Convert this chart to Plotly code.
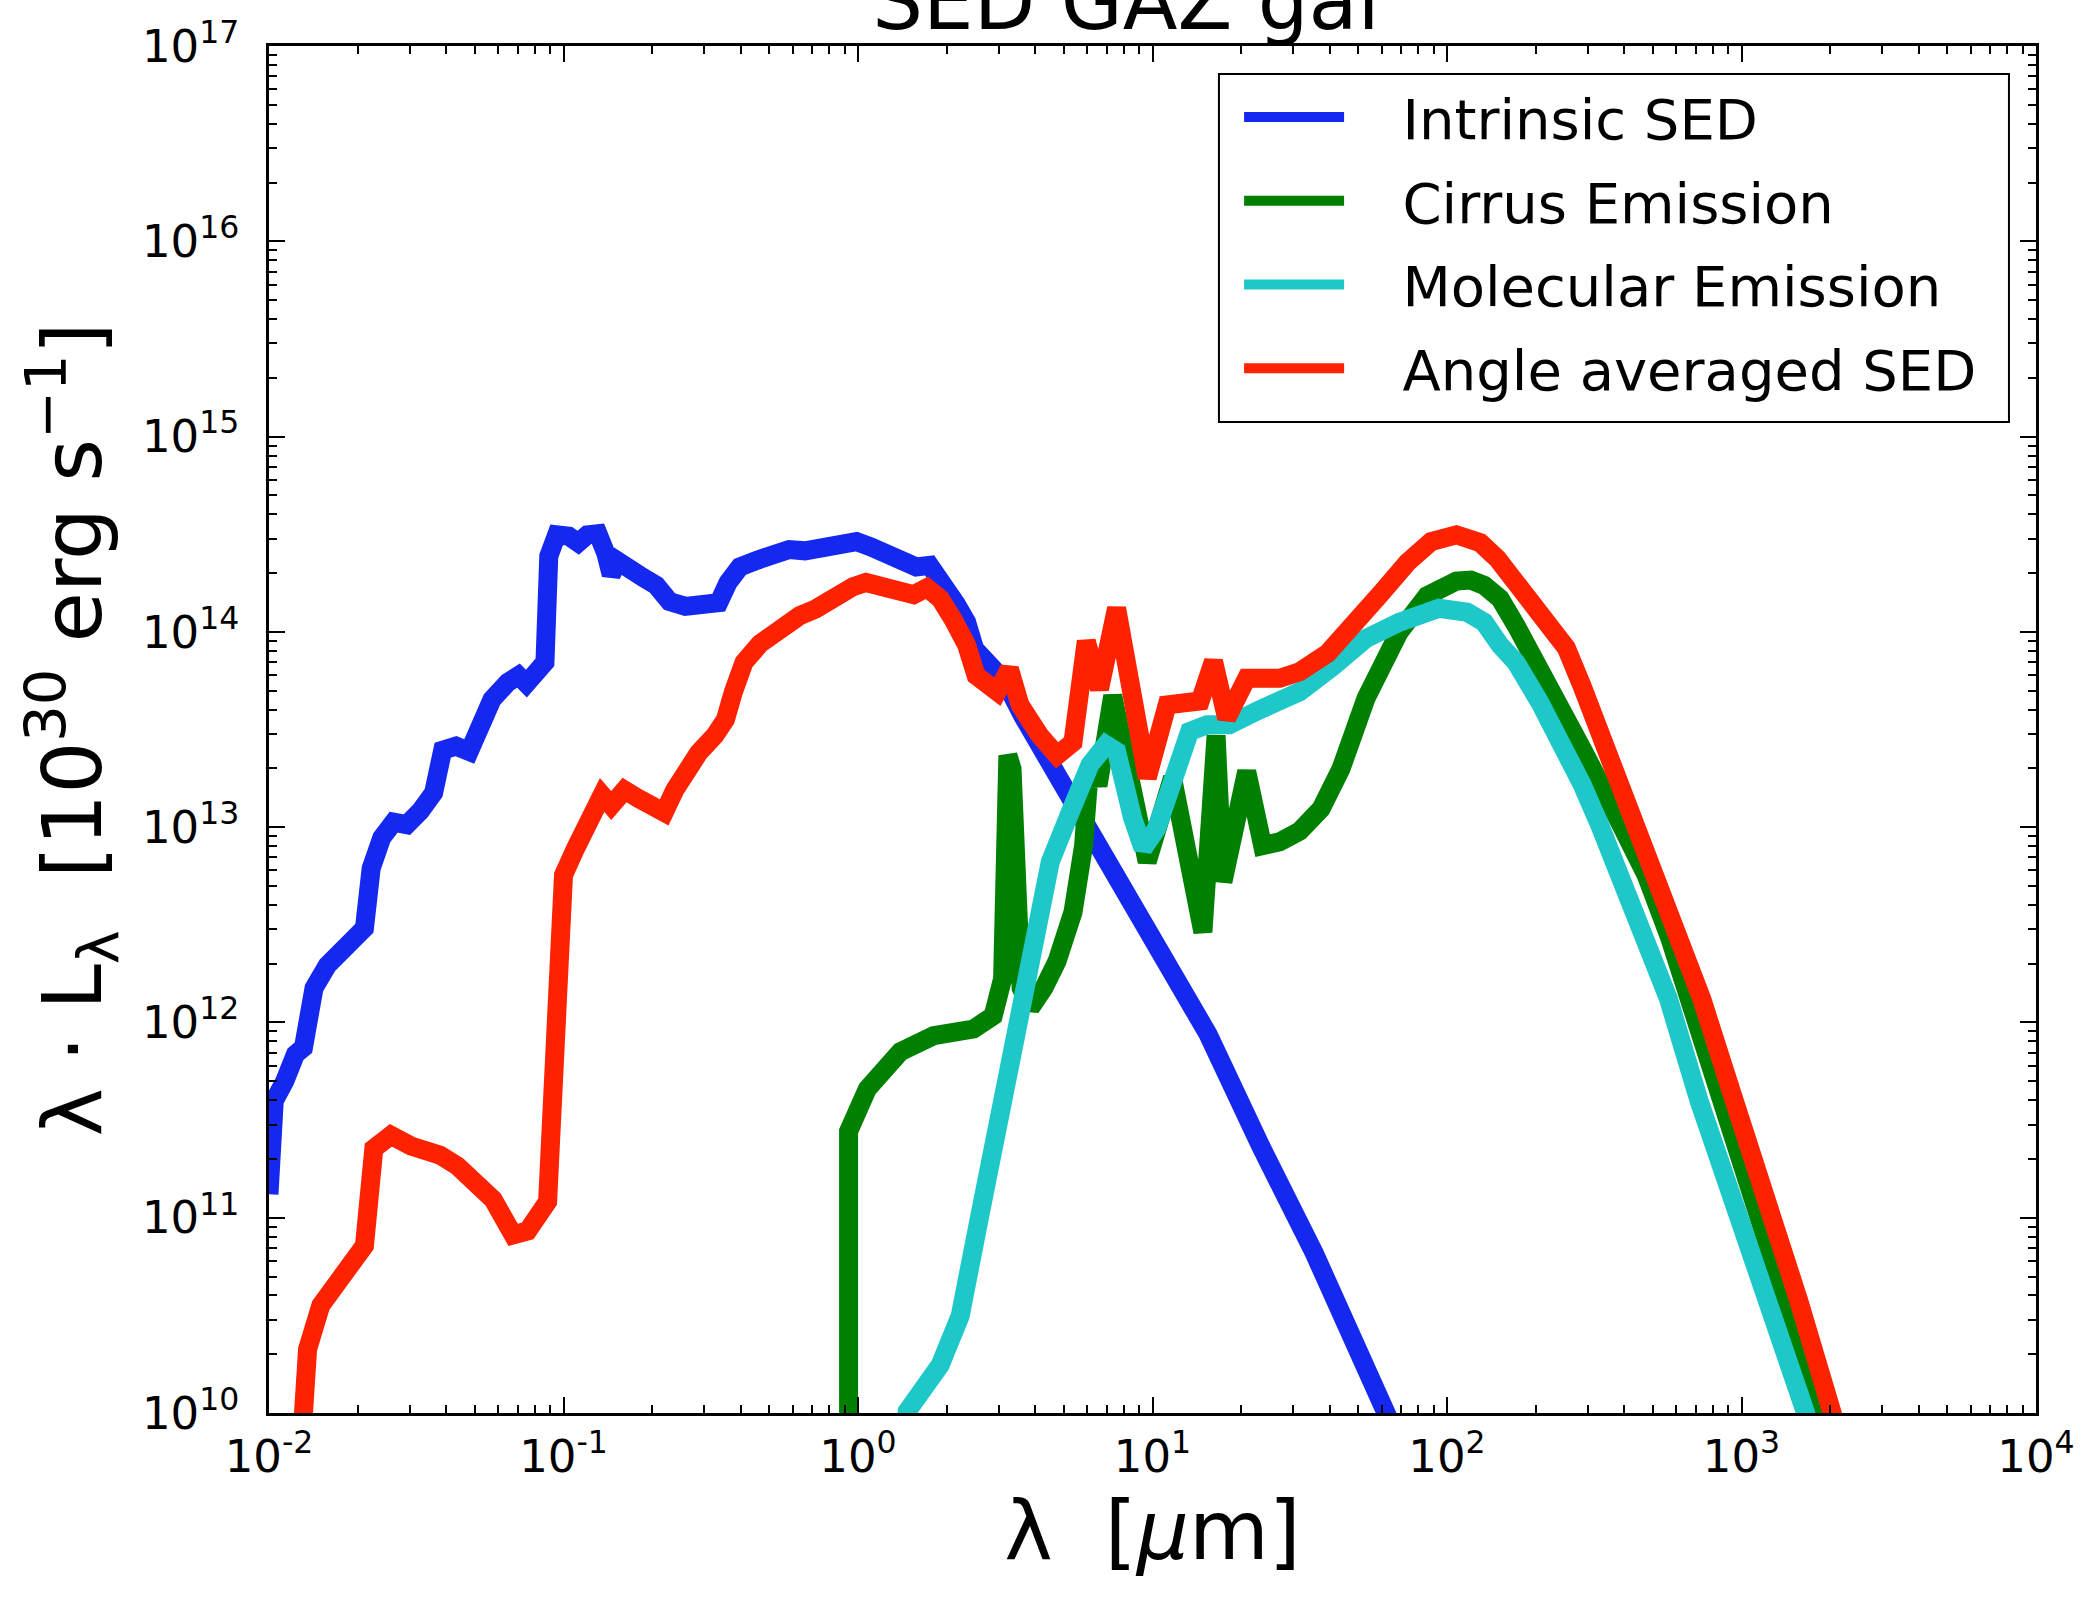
import plotly.graph_objects as go

# ---------------- data ----------------
intrinsic_lam = [0.0100, 0.01042, 0.01132, 0.01230, 0.01309, 0.01422, 0.01578, 0.01862, 0.02109, 0.02223,
                 0.02415, 0.02649, 0.02938, 0.03266, 0.03622, 0.03890, 0.04315, 0.04786, 0.05260, 0.05715,
                 0.06471, 0.07031, 0.07482, 0.08128, 0.08650, 0.08913, 0.09484, 0.1042, 0.1122, 0.1205,
                 0.1309, 0.1393, 0.1452, 0.1531, 0.1679, 0.1862, 0.2065, 0.2291, 0.2594, 0.2999,
                 0.3365, 0.3622, 0.3972, 0.4550, 0.5152, 0.5834, 0.6607, 0.7638, 0.8650, 0.9886,
                 1.109, 1.256, 1.422, 1.578, 1.750, 1.941, 2.153, 2.339, 2.489, 2.877,
                 3.199, 3.622, 4.140, 4.943, 6.081, 8.299, 11.32, 15.45, 23.39, 35.48,
                 62.09, 73.28]
intrinsic_L = [1.32e11, 3.97e11, 5.02e11, 6.87e11, 7.43e11, 1.50e12, 1.96e12, 2.52e12, 3.04e12, 6.15e12,
               8.83e12, 1.06e13, 1.03e13, 1.21e13, 1.50e13, 2.48e13, 2.60e13, 2.44e13, 3.44e13, 4.50e13,
               5.51e13, 5.97e13, 5.43e13, 6.15e13, 6.98e13, 2.44e14, 3.14e14, 3.09e14, 2.86e14, 3.14e14,
               3.18e14, 2.52e14, 1.96e14, 2.30e14, 2.15e14, 1.90e14, 1.73e14, 1.43e14, 1.35e14, 1.35e14,
               1.41e14, 1.79e14, 2.15e14, 2.33e14, 2.44e14, 2.64e14, 2.60e14, 2.72e14, 2.69e14, 2.90e14,
               2.72e14, 2.48e14, 2.30e14, 2.15e14, 2.19e14, 1.79e14, 1.39e14, 1.12e14, 8.17e13, 6.46e13,
               5.35e13, 3.72e13, 2.64e13, 1.65e13, 9.84e12, 4.71e12, 2.15e12, 8.69e11, 2.30e11, 6.55e10,
               1.0e10, 5.78e9]

cirrus_lam = [0.9290, 0.9290, 1.076, 1.230, 1.393, 1.807, 2.466, 2.877, 3.097, 3.228,
              3.334, 3.581, 3.855, 4.276, 4.742, 5.370, 5.834, 6.081, 6.266, 6.531,
              7.328, 9.594, 11.69, 14.83, 16.44, 17.34, 20.89, 23.66, 27.04, 31.62,
              37.33, 43.65, 53.09, 68.87, 85.51, 107.6, 120.5, 133.7, 151.4, 171.4,
              206.5, 254.1, 287.7, 329.6, 393.6, 474.2, 571.5, 680.8, 883.1, 1146,
              1483, 1862, 2065]
cirrus_L = [5.78e9, 2.77e11, 4.57e11, 5.87e11, 7.08e11, 8.55e11, 9.25e11, 1.08e12, 1.67e12, 2.33e13,
            1.99e13, 1.50e12, 1.19e12, 1.50e12, 2.06e12, 3.67e12, 8.04e12, 1.84e13, 2.15e13, 1.63e13,
            4.71e13, 6.65e12, 1.79e13, 2.90e12, 2.95e13, 5.26e12, 1.93e13, 8.04e12, 8.41e12, 9.55e12,
            1.24e13, 1.99e13, 4.57e13, 1.00e14, 1.53e14, 1.82e14, 1.84e14, 1.73e14, 1.48e14, 1.08e14,
            6.65e13, 3.72e13, 2.52e13, 1.70e13, 1.03e13, 5.69e12, 2.69e12, 1.19e12, 3.67e11, 1.13e11,
            3.50e10, 1.02e10, 5.78e9]

molecular_lam = [1.422, 1.469, 1.901, 2.223, 2.594, 2.877, 3.097, 3.365, 3.936, 4.498,
                 5.370, 6.138, 6.950, 7.551, 8.551, 9.290, 10.33, 11.69, 13.37, 15.31,
                 18.24, 22.44, 27.04, 31.62, 41.02, 53.09, 68.87, 93.97, 117.0, 133.7,
                 151.4, 171.4, 206.5, 254.1, 287.7, 329.6, 427.6, 564.9, 717.8, 929.0,
                 1205, 1644, 1824]
molecular_L = [5.78e9, 1.02e10, 1.76e10, 3.14e10, 1.03e11, 2.26e11, 4.65e11, 8.28e11, 2.48e12, 6.65e12,
               1.29e13, 2.09e13, 2.64e13, 2.44e13, 1.12e13, 7.78e12, 9.84e12, 1.79e13, 3.09e13, 3.34e13,
               3.34e13, 3.91e13, 4.57e13, 4.94e13, 6.65e13, 9.25e13, 1.12e14, 1.32e14, 1.26e14, 1.12e14,
               8.55e13, 6.98e13, 4.36e13, 2.52e13, 1.65e13, 1.03e13, 3.78e12, 1.32e12, 3.97e11, 1.32e11,
               3.78e10, 1.02e10, 5.78e9]

averaged_lam = [0.01271, 0.01309, 0.01352, 0.01500, 0.01786, 0.02109, 0.02270, 0.02594, 0.03034, 0.03811,
                0.04365, 0.05200, 0.05768, 0.06745, 0.07551, 0.08831, 0.09099, 0.09397, 0.1000, 0.1099,
                0.1245, 0.1352, 0.1452, 0.1611, 0.1786, 0.2023, 0.2198, 0.2388, 0.2594, 0.2877,
                0.3266, 0.3548, 0.3776, 0.4102, 0.4645, 0.5152, 0.5715, 0.6339, 0.7178, 0.7798,
                0.8650, 0.9594, 1.064, 1.205, 1.365, 1.545, 1.714, 1.901, 2.109, 2.339,
                2.518, 2.972, 3.266, 3.548, 4.140, 4.742, 5.370, 5.957, 6.607, 7.551,
                9.594, 11.22, 14.52, 16.11, 17.86, 20.89, 27.04, 31.62, 39.36, 48.42,
                59.57, 73.28, 88.31, 107.6, 129.7, 148.3, 171.4, 206.5, 254.1, 287.7,
                329.6, 393.6, 474.2, 583.4, 732.8, 929.0, 1205, 1563, 2023, 2244]
averaged_L = [4.94e9, 1.02e10, 2.12e10, 3.56e10, 5.18e10, 7.19e10, 2.26e11, 2.64e11, 2.33e11, 2.09e11,
              1.84e11, 1.41e11, 1.24e11, 8.17e10, 8.55e10, 1.21e11, 3.97e11, 1.19e12, 5.69e12, 7.78e12,
              1.17e13, 1.46e13, 1.29e13, 1.55e13, 1.41e13, 1.24e13, 1.19e13, 1.55e13, 1.93e13, 2.40e13,
              2.95e13, 3.56e13, 4.94e13, 6.98e13, 8.69e13, 9.84e13, 1.08e14, 1.21e14, 1.31e14, 1.43e14,
              1.53e14, 1.70e14, 1.79e14, 1.68e14, 1.63e14, 1.55e14, 1.68e14, 1.48e14, 1.15e14, 8.55e13,
              5.97e13, 4.94e13, 6.46e13, 4.23e13, 2.95e13, 2.33e13, 2.72e13, 8.95e13, 5.10e13, 1.32e14,
              1.79e13, 4.23e13, 4.43e13, 7.08e13, 3.61e13, 5.78e13, 5.78e13, 6.25e13, 7.78e13, 1.08e14,
              1.57e14, 2.26e14, 2.90e14, 3.14e14, 2.86e14, 2.37e14, 1.82e14, 1.29e14, 8.28e13, 5.26e13,
              3.09e13, 1.55e13, 7.43e12, 3.29e12, 1.32e12, 4.30e11, 1.32e11, 3.78e10, 1.02e10, 5.78e9]

series_names = ["Intrinsic SED", "Cirrus Emission", "Molecular Emission", "Angle averaged SED"]
series_colors = ["#1428F0", "#008000", "#1EC8C8", "#FF2200"]

x_tick_exp = [-2, -1, 0, 1, 2, 3, 4]
y_tick_exp = [10, 11, 12, 13, 14, 15, 16, 17]

# ---------------- figure ----------------
FONT = "DejaVu Sans"
NBSP = "\u00a0"
fig = go.Figure()
data = [(intrinsic_lam, intrinsic_L), (cirrus_lam, cirrus_L),
        (molecular_lam, molecular_L), (averaged_lam, averaged_L)]
for (lam, L), name, col in zip(data, series_names, series_colors):
    assert len(lam) == len(L)
    fig.add_trace(go.Scatter(x=lam, y=L, mode="lines", name=NBSP * 3 + name, legendgroup=name,
                             line=dict(color=col, width=19), cliponaxis=True))

x_tickvals = [10.0 ** e for e in x_tick_exp]
x_ticktext = ["10<sup>%d</sup>" % e for e in x_tick_exp]
y_tickvals = [10.0 ** e for e in y_tick_exp]
y_ticktext = ["10<sup>%d</sup>" % e for e in y_tick_exp]
x_minor = [k * 10.0 ** e for e in x_tick_exp[:-1] for k in range(2, 10)]
y_minor = [k * 10.0 ** e for e in y_tick_exp[:-1] for k in range(2, 10)]

axis_common = dict(type="log", showline=True, linecolor="black", linewidth=2.5, mirror="allticks",
                   ticks="inside", ticklen=16, tickwidth=1.8, tickcolor="black", showgrid=False,
                   zeroline=False, tickfont=dict(family=FONT, size=45, color="black"))

fig.update_xaxes(range=[-2, 4], tickmode="array", tickvals=x_tickvals, ticktext=x_ticktext,
                 minor=dict(tickmode="array", tickvals=x_minor, ticks="inside", ticklen=8,
                            tickwidth=1.5, tickcolor="black", showgrid=False),
                 title=dict(text="λ  [<i>μ</i>m]", font=dict(family=FONT, size=82, color="black"),
                            standoff=3),
                 ticklabelstandoff=2, **axis_common)
fig.update_yaxes(range=[10, 17], tickmode="array", tickvals=y_tickvals, ticktext=y_ticktext,
                 minor=dict(tickmode="array", tickvals=y_minor, ticks="inside", ticklen=8,
                            tickwidth=1.5, tickcolor="black", showgrid=False),
                 title=dict(text="λ · L<sub>λ</sub>  [10<sup>30</sup> erg s<sup>−1</sup>]",
                            font=dict(family=FONT, size=82, color="black"), standoff=14),
                 ticklabelstandoff=18, **axis_common)

# legend frame (drawn as a box, legend itself borderless inside it)
fig.add_shape(type="rect", xref="paper", yref="paper", x0=0.5376, x1=0.9847, y0=0.7249, y1=0.9795,
              line=dict(color="black", width=2), fillcolor="white", layer="below")

fig.update_layout(
    width=2082, height=1598,
    margin=dict(l=269, r=46, t=46, b=185, autoexpand=False),
    paper_bgcolor="white", plot_bgcolor="white",
    font=dict(family=FONT, color="black"),
    title=dict(text="SED GAZ gal", x=0.485, xref="paper", y=1 - 29 / 1598, yref="container",
               yanchor="bottom", xanchor="center",
               font=dict(family=FONT, size=80, color="black")),
    legend=dict(x=0.549, y=0.9795, xanchor="left", yanchor="top", bgcolor="rgba(0,0,0,0)",
                borderwidth=0, font=dict(family=FONT, size=56, color="black"),
                itemwidth=100, tracegroupgap=8),
    showlegend=True,
)

fig.write_html("out.html")
